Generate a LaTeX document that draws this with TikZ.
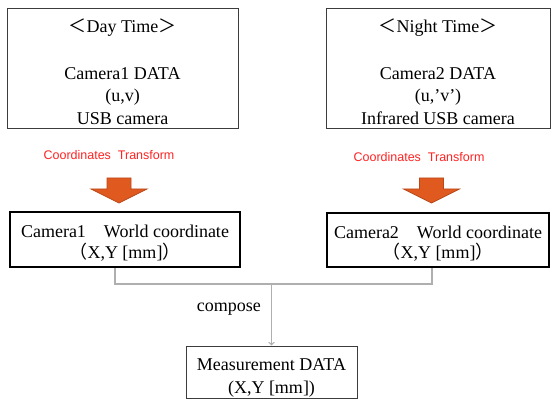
\documentclass[tikz,border=0pt]{standalone}
\usepackage{fontspec}
\setmainfont{Liberation Serif}
\newfontfamily\cjk{Noto Sans CJK JP}
\newfontfamily\redsans{Liberation Sans}
\usetikzlibrary{arrows, positioning, calc, shapes}

\definecolor{tforange}{RGB}{224,90,32}
\definecolor{tfborder}{RGB}{185,72,25}
\definecolor{tfred}{RGB}{255,35,35}
\definecolor{wiregray}{RGB}{175,175,175}
\definecolor{boxgray}{RGB}{60,60,60}

\begin{document}
\begin{tikzpicture}[x=1pt,y=-1pt,
  srcbox/.style={draw=boxgray, line width=1pt, align=center, inner sep=0pt,
    font=\fontsize{18}{22.5}\selectfont},
  worldbox/.style={draw=black, line width=2pt, align=center, inner sep=0pt,
    font=\fontsize{18}{20.5}\selectfont},
  measbox/.style={draw=boxgray, line width=1pt, align=center, inner sep=0pt,
    font=\fontsize{18}{23}\selectfont},
  tflabel/.style={text=tfred, font=\redsans\fontsize{12.5}{14}\selectfont},
  tfarrow/.style={fill=tforange, draw=tfborder, line width=0.8pt, line join=miter},
  wire/.style={draw=wiregray, line width=1.3pt}]
\useasboundingbox (0,0) rectangle (551,403);

% camera data
\node[srcbox, minimum width=231pt, minimum height=120pt] (day) at (122.5,69)
  {\rule{0pt}{19.5pt}{\cjk ＜}Day Time{\cjk ＞}\\[24pt]Camera1 DATA\\(u,v)\\USB camera};
\node[srcbox, minimum width=224pt, minimum height=120pt] (night) at (438,69)
  {\rule{0pt}{19.5pt}{\cjk ＜}Night Time{\cjk ＞}\\[24pt]Camera2 DATA\\(u,'v')\\Infrared USB camera};

% transform
\node[tflabel] (tf1) at (109,155) {Coordinates~ Transform};
\node[tflabel] (tf2) at (419,157) {Coordinates~ Transform};
\foreach \ax in {119,431.5}
  \draw[tfarrow] (\ax-12,178) -- (\ax+12,178) -- (\ax+12,189) -- (\ax+28,189)
    -- (\ax,203) -- (\ax-28,189) -- (\ax-12,189) -- cycle;

% world coordinates
\node[worldbox, minimum width=230pt, minimum height=55pt] (world1) at (125,239.5)
  {\rule{0pt}{20pt}Camera1{\cjk 　}World coordinate\\{\cjk （}X,Y [mm]{\cjk ）}};
\node[worldbox, minimum width=222pt, minimum height=54pt] (world2) at (438,240)
  {\rule{0pt}{20pt}Camera2{\cjk 　}World coordinate\\{\cjk （}X,Y [mm]{\cjk ）}};

% compose
\node[measbox, minimum width=171pt, minimum height=52pt] (meas) at (271.5,372)
  {\rule{0pt}{23pt}Measurement DATA\\(X,Y [mm])};
\coordinate (j1) at (115,284);
\coordinate (j2) at (432,284);
\draw[wire] (j1 |- world1.south) -- (j1) -- (j2) -- (j2 |- world2.south);
\draw[wire,->] (meas.north |- j1) -- (meas.north)
  node[pos=0.41, left=10pt, inner sep=0pt, text=black, font=\fontsize{18}{20}\selectfont] (lbl) {compose};
\end{tikzpicture}
\end{document}
